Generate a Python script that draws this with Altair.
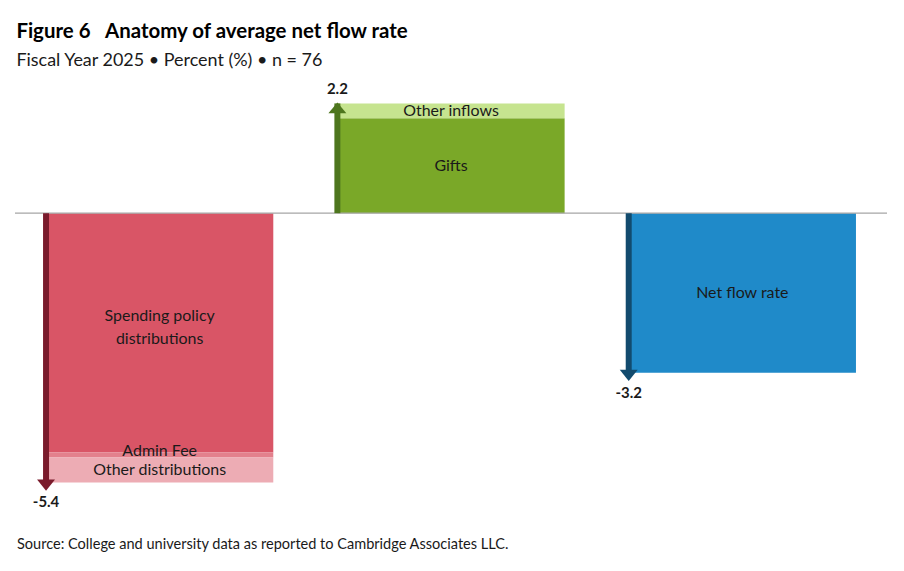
import altair as alt
import pandas as pd

# ---- data ----
groups = ["Outflows", "Inflows", "Net"]
segment_group = ["Outflows", "Outflows", "Outflows", "Inflows", "Inflows", "Net"]
segment_name = ["Spending policy distributions", "Admin Fee", "Other distributions",
                "Gifts", "Other inflows", "Net flow rate"]
segment_text = ["Spending policy\ndistributions", "Admin Fee", "Other distributions",
                "Gifts", "Other inflows", "Net flow rate"]
segment_value = [-4.8, -0.1, -0.5, 1.9, 0.3, -3.2]
total_value = [-5.4, 2.2, -3.2]
total_text = ["-5.4", "2.2", "-3.2"]
source_text = "Source: College and university data as reported to Cambridge Associates LLC."
title_text = "Figure 6\u2002\u00a0Anatomy of average net flow rate"
subtitle_text = "Fiscal Year 2025 \u2022 Percent (%) \u2022 n = 76"

# ---- styles ----
seg_colors = ["#D95566", "#E3808C", "#EDACB4", "#7AA828", "#C6E48F", "#1F8AC9"]
arrow_colors = ["#7A1B2C", "#4E761E", "#124B6E"]
FONT = "Lato"

seg = pd.DataFrame({"group": segment_group, "name": segment_name,
                    "text": segment_text, "value": segment_value})
seg["y_end"] = seg.groupby("group")["value"].cumsum()
seg["y_start"] = seg["y_end"] - seg["value"]
seg["y_mid"] = (seg["y_start"] + seg["y_end"]) / 2

tot = pd.DataFrame({"group": groups, "total": total_value, "text": total_text})
tot["dir"] = ["up" if v > 0 else "down" for v in total_value]

W, H = 874, 430
xscale = alt.Scale(domain=groups, paddingInner=0.22, paddingOuter=0.1066)
yscale = alt.Scale(domain=[-6.0, 2.6], nice=False, zero=False)
x_band = alt.X("group:N", scale=xscale, axis=None)
x_arrow = alt.X("group:N", scale=xscale, axis=None, bandPosition=0)

base_seg = alt.Chart(seg)
base_tot = alt.Chart(tot)

bars = base_seg.mark_bar().encode(
    x=x_band,
    y=alt.Y("y_start:Q", scale=yscale, axis=None),
    y2="y_end:Q",
    color=alt.Color("name:N", scale=alt.Scale(domain=segment_name, range=seg_colors), legend=None),
)

zero = alt.Chart(pd.DataFrame({"z": [0]})).mark_rule(color="#A6A6A6", strokeWidth=1.2).encode(
    y=alt.Y("z:Q", scale=yscale, axis=None)
)

labels = base_seg.transform_filter(
    "datum.name != 'Admin Fee' && datum.name != 'Spending policy distributions'"
).mark_text(
    font=FONT, fontSize=16, color="#1a1a1a", baseline="middle"
).encode(x=x_band, y=alt.Y("y_mid:Q", scale=yscale, axis=None), text="text:N")

spend_label = base_seg.transform_filter("datum.name == 'Spending policy distributions'").mark_text(
    font=FONT, fontSize=16, color="#1a1a1a", lineBreak="\n", baseline="middle", lineHeight=23, dy=-17
).encode(x=x_band, y=alt.Y("y_mid:Q", scale=yscale, axis=None), text="text:N")

admin_label = base_seg.transform_filter("datum.name == 'Admin Fee'").mark_text(
    font=FONT, fontSize=16, color="#1a1a1a", baseline="alphabetic", dy=3
).encode(x=x_band, y=alt.Y("y_start:Q", scale=yscale, axis=None), text="text:N")

shafts = base_tot.mark_rule(strokeWidth=6, strokeCap="butt").encode(
    x=x_arrow,
    y=alt.Y("total:Q", scale=yscale, axis=None),
    y2=alt.datum(0),
    color=alt.Color("group:N", scale=alt.Scale(domain=groups, range=arrow_colors), legend=None),
)

heads = base_tot.mark_point(filled=True, size=324, opacity=1, strokeWidth=0).encode(
    x=x_arrow,
    y=alt.Y("total:Q", scale=yscale, axis=None),
    shape=alt.Shape("dir:N", scale=alt.Scale(domain=["down", "up"],
                    range=["M-1,-0.35L1,-0.35L0,0.9Z", "M-1,1.1L1,1.1L0,-0.1Z"]), legend=None),
    color=alt.Color("group:N", scale=alt.Scale(domain=groups, range=arrow_colors), legend=None),
)

neg_labels = base_tot.transform_filter("datum.total < 0").mark_text(
    font=FONT, fontSize=15, fontWeight="bold", color="#1a1a1a", baseline="top", dy=13
).encode(x=x_arrow, y=alt.Y("total:Q", scale=yscale, axis=None), text="text:N")

pos_labels = base_tot.transform_filter("datum.total > 0").mark_text(
    font=FONT, fontSize=15, fontWeight="bold", color="#1a1a1a", baseline="bottom", dy=-6
).encode(x=x_arrow, y=alt.Y("total:Q", scale=yscale, axis=None), text="text:N")

source = alt.Chart(pd.DataFrame({"s": [source_text]})).mark_text(
    font=FONT, fontSize=14.6, color="#1a1a1a", align="left", baseline="middle"
).encode(x=alt.value(2), y=alt.value(463), text="s:N")

chart = alt.layer(
    bars, zero, labels, spend_label, admin_label, shafts, heads, neg_labels, pos_labels, source
).resolve_scale(color="independent").properties(
    width=W, height=H,
    background="white",
    padding={"left": 6, "top": 13, "right": 8, "bottom": 5},
    title=alt.TitleParams(
        text=title_text, subtitle=subtitle_text, anchor="start",
        font=FONT, fontSize=20.5, fontWeight="bold", color="#000000",
        subtitleFont=FONT, subtitleFontSize=18, subtitleColor="#1a1a1a",
        subtitlePadding=10, dx=2, offset=12,
    ),
).configure_view(stroke=None)

chart.save("out.html", embed_options={"renderer": "svg", "actions": False})
